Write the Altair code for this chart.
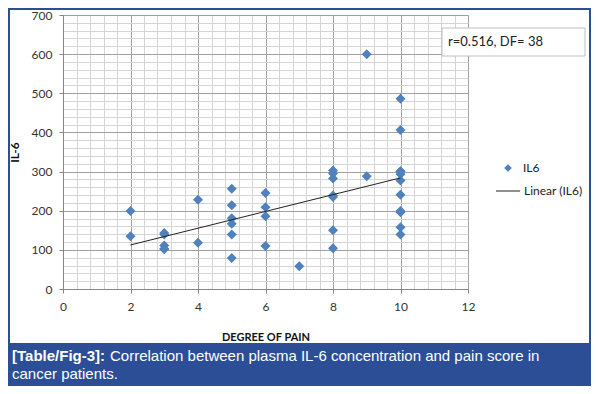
import altair as alt
import pandas as pd

# ---- data ----
pain = [2, 2,
        3, 3, 3, 3, 3,
        4, 4,
        5, 5, 5, 5, 5, 5,
        6, 6, 6, 6,
        7,
        8, 8, 8, 8, 8, 8, 8,
        9, 9,
        10, 10, 10, 10, 10, 10, 10, 10, 10, 10, 10]
il6 = [199, 135,
       143, 139, 111, 102, 102,
       228, 118,
       256, 214, 181, 167, 139, 79,
       245, 209, 186, 110,
       58,
       303, 295, 282, 239, 235, 150, 104,
       600, 288,
       486, 406, 301, 300, 293, 277, 241, 199, 196, 158, 139]

x_ticks = [round(0.4 * i, 1) for i in range(31)]      # major every 2, minor every 0.4
y_ticks = [20 * i for i in range(36)]                 # major every 100, minor every 20

series_name = "IL6"
trend_name = "Linear (IL6)"
annotation = "r=0.516, DF= 38"
caption_bold = "[Table/Fig-3]:"
caption_line1 = "Correlation between plasma IL-6 concentration and pain score in"
caption_line2 = "cancer patients."
x_title = "DEGREE OF PAIN"
y_title = "IL-6"

df = pd.DataFrame({"pain": pain, "il6": il6})
one = pd.DataFrame({"k": [0]})

W, H = 405, 274
BLUE = "#2B4E96"
PT = "#4F81BD"
FONT = "Lato"

x_major = "abs(datum.value/2 - round(datum.value/2)) < 0.001"
y_major = "datum.value % 100 == 0"

xaxis = alt.Axis(
    values=x_ticks, title=x_title, grid=True,
    gridColor={"condition": {"test": x_major, "value": "#A0A0A0"}, "value": "#D4D4D4"},
    tickOpacity={"condition": {"test": x_major, "value": 1}, "value": 0},
    labelExpr=f"({x_major}) ? format(datum.value, 'd') : ''",
    labelOverlap=False, labelFlush=False, tickSize=4, labelPadding=8,
    titlePadding=19, domainColor="#868686", tickColor="#868686",
)
yaxis = alt.Axis(
    values=y_ticks, title=y_title, grid=True,
    gridColor={"condition": {"test": y_major, "value": "#A0A0A0"}, "value": "#D4D4D4"},
    tickOpacity={"condition": {"test": y_major, "value": 1}, "value": 0},
    labelExpr=f"({y_major}) ? datum.label : ''",
    labelOverlap=False, tickSize=4, labelPadding=7, titlePadding=10,
    domainColor="#868686", tickColor="#868686",
)

base = alt.Chart(df)
xs = alt.X("pain:Q", scale=alt.Scale(domain=[0, 12], nice=False), axis=xaxis)
ys = alt.Y("il6:Q", scale=alt.Scale(domain=[0, 700], nice=False), axis=yaxis)

points = base.mark_point(shape="diamond", filled=True, size=100, opacity=1, color=PT).encode(x=xs, y=ys)
trend = base.transform_regression("pain", "il6", extent=[2, 10]).mark_line(
    color="#222222", strokeWidth=1).encode(x=xs, y=ys)

frame = alt.Chart(one).mark_rect(fill=None, stroke=BLUE, strokeWidth=2).encode(
    x=alt.value(-54), x2=alt.value(527), y=alt.value(-6), y2=alt.value(371))
cap_box = alt.Chart(one).mark_rect(fill=BLUE).encode(
    x=alt.value(-55), x2=alt.value(528), y=alt.value(328), y2=alt.value(371))
cap_b = alt.Chart(one).mark_text(align="left", baseline="alphabetic", font="Liberation Sans",
                                 fontSize=15, fontWeight="bold", color="white").encode(
    x=alt.value(-51), y=alt.value(346), text=alt.value(caption_bold))
cap_1 = alt.Chart(one).mark_text(align="left", baseline="alphabetic", font="Liberation Sans",
                                 fontSize=15, color="white").encode(
    x=alt.value(47), y=alt.value(346), text=alt.value(caption_line1))
cap_2 = alt.Chart(one).mark_text(align="left", baseline="alphabetic", font="Liberation Sans",
                                 fontSize=15, color="white").encode(
    x=alt.value(-51), y=alt.value(364), text=alt.value(caption_line2))

ann_box = alt.Chart(one).mark_rect(fill="white", stroke="#BFBFBF", strokeWidth=1).encode(
    x=alt.value(379), x2=alt.value(522), y=alt.value(13), y2=alt.value(41))
ann_txt = alt.Chart(one).mark_text(align="left", baseline="middle", font=FONT, fontSize=13,
                                   color="#222222").encode(
    x=alt.value(385), y=alt.value(27), text=alt.value(annotation))

leg_pt = alt.Chart(one).mark_point(shape="diamond", filled=True, size=60, opacity=1, color=PT).encode(
    x=alt.value(445), y=alt.value(153))
leg_pt_t = alt.Chart(one).mark_text(align="left", baseline="middle", font=FONT, fontSize=12,
                                    color="#222222").encode(
    x=alt.value(460), y=alt.value(153), text=alt.value(series_name))
leg_ln = alt.Chart(one).mark_rule(color="#222222", strokeWidth=1).encode(
    x=alt.value(433), x2=alt.value(457), y=alt.value(176))
leg_ln_t = alt.Chart(one).mark_text(align="left", baseline="middle", font=FONT, fontSize=12,
                                    color="#222222").encode(
    x=alt.value(461), y=alt.value(176), text=alt.value(trend_name))

chart = alt.layer(
    frame, cap_box, points, trend, ann_box, ann_txt,
    leg_pt, leg_pt_t, leg_ln, leg_ln_t, cap_b, cap_1, cap_2,
).properties(
    width=W, height=H,
    autosize=alt.AutoSizeParams(type="none"),
    padding={"left": 55, "top": 7, "right": 123, "bottom": 97},
    background="white",
).configure_view(stroke=None).configure_axis(
    labelFont=FONT, labelFontSize=12, labelColor="#333333",
    titleFont=FONT, titleFontWeight="bold", titleColor="#111111",
).configure_axisX(titleFontSize=11).configure_axisY(titleFontSize=12)

chart.save("out.html", embed_options={"renderer": "svg", "actions": False})
